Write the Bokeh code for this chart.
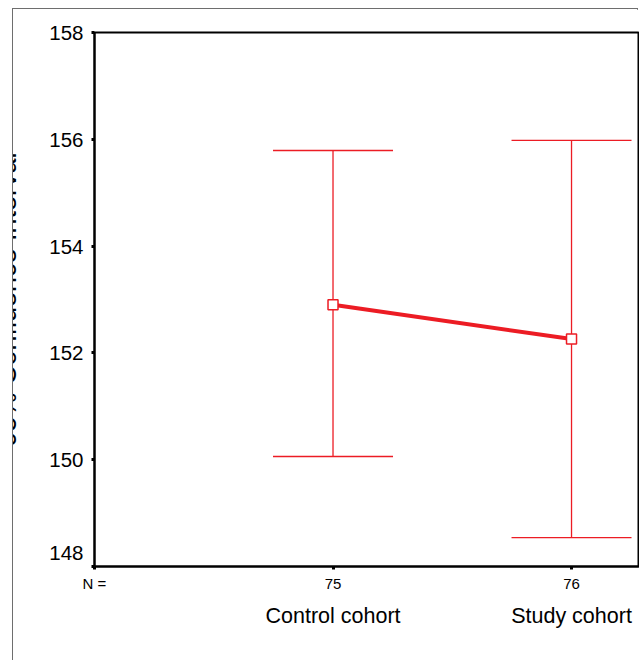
from bokeh.plotting import figure
from bokeh.layouts import column
from bokeh.models import (Range1d, FixedTicker, LinearAxis, Whisker,
                          TeeHead, ColumnDataSource)
from bokeh.embed import file_html
from bokeh.resources import INLINE

# ---- data ----
categories = ["Control cohort", "Study cohort"]
n_values = [75, 76]
means = [152.90, 152.26]
lower = [150.06, 148.54]
upper = [155.79, 155.98]
y_ticks = [148, 150, 152, 154, 156, 158]
y_label = "95% Confidence Interval"

xpos = list(range(1, len(categories) + 1))
RED = "#ec1c24"
FONT = "Liberation Sans"
HIDE = 24          # px of the canvas hidden behind the frame on the left
W = 626

src = ColumnDataSource(dict(x=xpos, mean=means, lo=lower, hi=upper))

p = figure(width=W + HIDE, height=652, output_backend="svg",
           toolbar_location=None, sizing_mode="fixed",
           x_range=Range1d(0, 2.285), y_range=Range1d(y_ticks[0], y_ticks[-1]),
           min_border_left=80 + HIDE, min_border_right=0, min_border_top=23,
           min_border_bottom=95, x_axis_location=None, y_axis_location=None,
           styles={"margin-left": f"-{HIDE}px",
                   "min-width": f"{W + HIDE}px",
                   "max-width": "none",
                   "flex-shrink": "0",
                   "clip-path": f"inset(0px 0px 0px {HIDE}px)"})
p.grid.visible = False
p.outline_line_color = "black"
p.outline_line_width = 2
p.background_fill_color = "white"
p.border_fill_color = "white"

# y axis
ya = LinearAxis(ticker=FixedTicker(ticks=y_ticks))
# lowest label lifted by half a line, as in the original
ya.major_label_overrides = {y_ticks[0]: f"{y_ticks[0]}\n\u00a0"}
ya.axis_line_color = "black"
ya.axis_line_width = 2
ya.major_tick_line_width = 3
ya.major_tick_in = 0
ya.major_tick_out = 3
ya.minor_tick_line_color = None
ya.major_label_standoff = 8
ya.major_label_text_font = FONT
ya.major_label_text_font_size = "20.5px"
ya.major_label_text_color = "black"
ya.axis_label = y_label
ya.axis_label_standoff = 24
ya.axis_label_text_font = FONT
ya.axis_label_text_font_size = "27px"
ya.axis_label_text_font_style = "normal"
ya.axis_label_text_color = "black"
p.add_layout(ya, "left")

# x axis (N row)
xa = LinearAxis(ticker=FixedTicker(ticks=[0] + xpos))
xa.major_label_overrides = {0: "N ="}
for xp, n in zip(xpos, n_values):
    xa.major_label_overrides[xp] = str(n)
xa.axis_line_color = "black"
xa.axis_line_width = 2
xa.major_tick_line_width = 3
xa.major_tick_in = 0
xa.major_tick_out = 3
xa.minor_tick_line_color = None
xa.major_label_standoff = 5
xa.major_label_text_font = FONT
xa.major_label_text_font_size = "15px"
xa.major_label_text_color = "black"
p.add_layout(xa, "below")

# category axis
ca = LinearAxis(ticker=FixedTicker(ticks=xpos))
ca.major_label_overrides = {xp: c for xp, c in zip(xpos, categories)}
ca.axis_line_color = None
ca.major_tick_line_color = None
ca.minor_tick_line_color = None
ca.major_label_standoff = 3
ca.major_label_text_font = FONT
ca.major_label_text_font_size = "21.5px"
ca.major_label_text_color = "black"
p.add_layout(ca, "below")

# error bars
wh = Whisker(source=src, base="x", upper="hi", lower="lo", dimension="height",
             line_color=RED, line_width=1.3,
             upper_head=TeeHead(size=120, line_color=RED, line_width=1.3),
             lower_head=TeeHead(size=120, line_color=RED, line_width=1.3))
p.add_layout(wh)

# mean line and markers
p.line("x", "mean", source=src, line_color=RED, line_width=4)
p.scatter("x", "mean", source=src, marker="square", size=10,
          fill_color="white", line_color=RED, line_width=1.5)

layout = column(p, width=W, height=652,
                styles={"margin-left": "12px", "margin-top": "8px",
                        "border-left": "1px solid #6e6e6e",
                        "border-top": "1px solid #6e6e6e",
                        "border-right": "1px solid #6e6e6e"})

open("out.html", "w").write(file_html(layout, INLINE))
